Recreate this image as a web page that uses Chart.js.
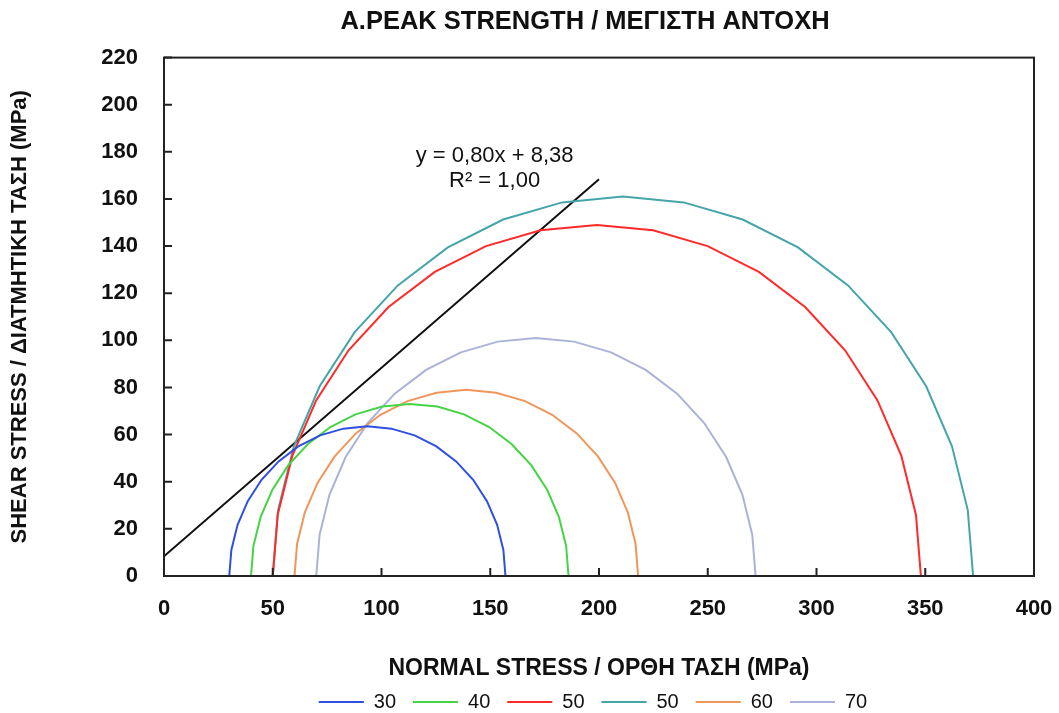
<!DOCTYPE html>
<html>
<head>
<meta charset="utf-8">
<title>Peak strength - Mohr circles</title>
<script src="https://cdn.jsdelivr.net/npm/chart.js@4.4.1/dist/chart.umd.min.js"></script>
<style>
  html, body { margin: 0; padding: 0; background: #fff; }
</style>
</head>
<body>
<canvas id="chart" width="1059" height="713"></canvas>
<script>
// confining pressure of each test (legend label) and principal stresses, MPa
const labels = ['30', '40', '50', '50', '60', '70'];
const sigma3 = [30, 40, 50, 50, 60, 70];
const sigma1 = [157, 186, 348, 372, 218, 272];
const colors = ['#2f4fe0', '#44d444', '#ff2a2a', '#45a5a8', '#f0965a', '#aab2d8'];

// angles (deg) used to trace each half circle, left end to right end
const angles = [180, 170, 160, 150, 140, 130, 120, 110, 100, 90, 80, 70, 60, 50, 40, 30, 20, 10, 0];

// linear envelope
const fitSlope = 0.80;
const fitIntercept = 8.38;
const fitRange = [0, 200];

const FONT = '"Liberation Sans", Arial, sans-serif';
Chart.defaults.font.family = FONT;
Chart.defaults.color = '#111';

function mohrCircle(s3, s1) {
    const c = (s1 + s3) / 2, r = (s1 - s3) / 2;
    return angles.map(a => ({
        x: c + r * Math.cos(a * Math.PI / 180),
        y: r * Math.sin(a * Math.PI / 180)
    }));
}

const datasets = labels.map((lbl, i) => ({
    label: lbl,
    data: mohrCircle(sigma3[i], sigma1[i]),
    borderColor: colors[i],
    backgroundColor: colors[i],
    borderWidth: 2,
    showLine: true,
    pointRadius: 0,
    tension: 0
}));

datasets.push({
    label: 'fit',
    data: fitRange.map(x => ({ x: x, y: fitSlope * x + fitIntercept })),
    borderColor: '#111',
    backgroundColor: '#111',
    borderWidth: 2,
    showLine: true,
    pointRadius: 0
});

// box round the plot, inward tick marks and the trendline equation
const frame = {
    id: 'frame',
    afterDatasetsDraw(chart) {
        const { ctx, chartArea: a, scales: { x, y } } = chart;
        ctx.save();
        ctx.strokeStyle = '#222';
        ctx.lineWidth = 2;
        ctx.strokeRect(a.left, a.top, a.right - a.left, a.bottom - a.top);
        ctx.beginPath();
        x.ticks.forEach(t => {
            const px = x.getPixelForValue(t.value);
            ctx.moveTo(px, a.bottom);
            ctx.lineTo(px, a.bottom - 8);
        });
        y.ticks.forEach(t => {
            const py = y.getPixelForValue(t.value);
            ctx.moveTo(a.left, py);
            ctx.lineTo(a.left + 8, py);
        });
        ctx.stroke();

        ctx.fillStyle = '#111';
        ctx.font = '22px ' + FONT;
        ctx.textAlign = 'center';
        ctx.textBaseline = 'middle';
        const tx = x.getPixelForValue(152);
        ctx.fillText('y = 0,80x + 8,38', tx, y.getPixelForValue(178.3));
        ctx.fillText('R² = 1,00', tx, y.getPixelForValue(167.7));
        ctx.restore();
    }
};

// title and legend sit roughly over the plot area, a little left of its centre
const centreBlocks = {
    id: 'centreBlocks',
    afterLayout(chart) {
        const mid = (chart.chartArea.left + chart.chartArea.right) / 2;
        [[chart.titleBlock, -14], [chart.legend, -6]].forEach(([box, shift]) => {
            if (!box) return;
            const d = mid + shift - (box.left + box.right) / 2;
            box.left += d;
            box.right += d;
        });
    }
};

new Chart(document.getElementById('chart'), {
    type: 'scatter',
    data: { datasets: datasets },
    plugins: [frame, centreBlocks],
    options: {
        responsive: false,
        animation: false,
        devicePixelRatio: 1,
        layout: { padding: { left: 0, right: 25, top: 0, bottom: -9 } },
        plugins: {
            title: {
                display: true,
                text: 'A.PEAK STRENGTH / ΜΕΓΙΣΤΗ ΑΝΤΟΧΗ',
                font: { size: 25.5, weight: 'bold' },
                color: '#111',
                padding: { top: 7, bottom: 20 }
            },
            legend: {
                position: 'bottom',
                labels: {
                    font: { size: 20 },
                    color: '#111',
                    boxWidth: 45,
                    boxHeight: 2,
                    padding: 17,
                    filter: item => item.datasetIndex < labels.length,
                    generateLabels(chart) {
                        return Chart.defaults.plugins.legend.labels.generateLabels(chart)
                            .map(it => Object.assign(it, { lineWidth: 0 }));
                    }
                }
            },
            tooltip: { enabled: false }
        },
        scales: {
            x: {
                type: 'linear',
                min: 0,
                max: 400,
                grid: { display: false },
                border: { display: false },
                ticks: { stepSize: 50, padding: 12, font: { size: 22, weight: 'bold' }, color: '#111' },
                title: {
                    display: true,
                    text: 'NORMAL STRESS / ΟΡΘΗ ΤΑΣΗ (MPa)',
                    font: { size: 23, weight: 'bold' },
                    color: '#111',
                    padding: { top: 30, bottom: -7 }
                },
                afterFit(scale) {
                    scale.height = 99;
                    scale.paddingLeft = 0;
                    scale.paddingRight = 0;
                }
            },
            y: {
                type: 'linear',
                min: 0,
                max: 220,
                grid: { display: false },
                border: { display: false },
                ticks: { stepSize: 20, padding: 18, font: { size: 22, weight: 'bold' }, color: '#111' },
                title: {
                    display: true,
                    text: 'SHEAR STRESS / ΔΙΑΤΜΗΤΙΚΗ ΤΑΣΗ (MPa)',
                    font: { size: 22, weight: 'bold' },
                    color: '#111',
                    padding: { top: 7, bottom: 0 }
                },
                afterFit(scale) { scale.width = 164; }
            }
        }
    }
});
</script>
</body>
</html>
